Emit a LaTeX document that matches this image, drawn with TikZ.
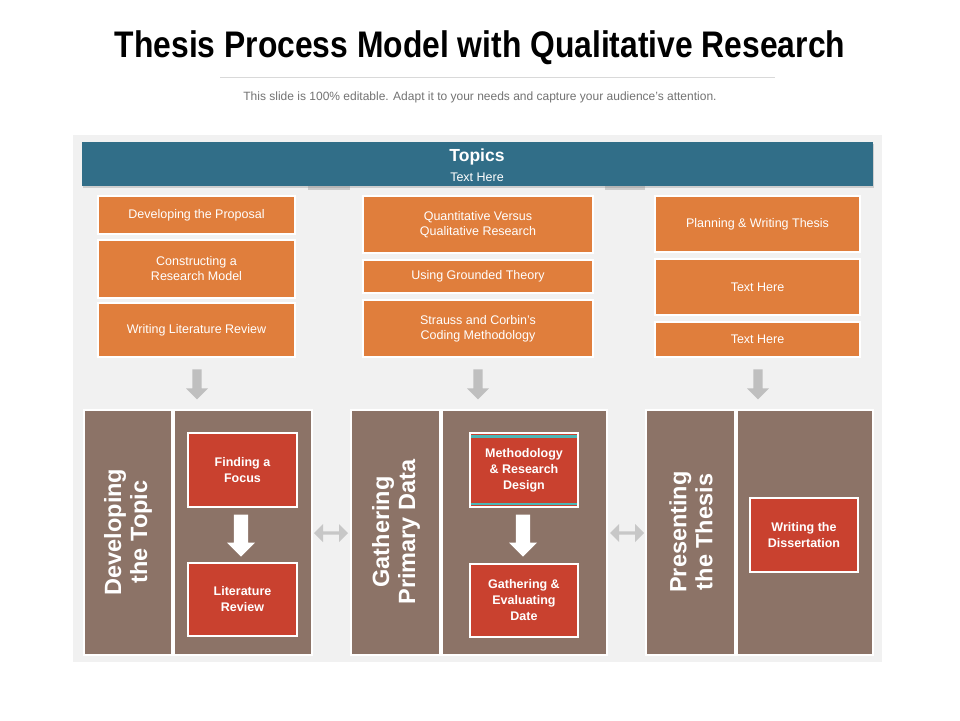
\documentclass[tikz,border=0pt]{standalone}
\usepackage{fontspec}
\setmainfont{Liberation Sans}
\usetikzlibrary{arrows.meta,shapes.arrows,shadows}
\definecolor{bgp}{HTML}{F1F1F1}
\definecolor{topbar}{HTML}{316E88}
\definecolor{org}{HTML}{E07E3C}
\definecolor{brn}{HTML}{8C7367}
\definecolor{rd}{HTML}{C9412F}
\definecolor{tl}{HTML}{4BB8B8}
\tikzset{
 obox/.style={fill=org,draw=white,line width=1.5pt,text=white,font=\fontsize{12.5}{15}\selectfont,align=center,inner sep=0pt,drop shadow={shadow xshift=1pt,shadow yshift=-1pt,opacity=.3}},
 bpan/.style={fill=brn,draw=white,line width=2pt},
 rbox/.style={fill=rd,draw=white,line width=2pt,text=white,font=\bfseries\fontsize{12.5}{16}\selectfont,align=center,inner sep=0pt},
 vtext/.style={rotate=90,text=white,font=\bfseries\fontsize{23.5}{26}\selectfont,align=center},
 garrow/.style={single arrow,fill=black!25,draw=none,minimum height=30pt,minimum width=22pt,single arrow head extend=3pt,shape border rotate=270,inner sep=2pt},
 warrow/.style={single arrow,fill=white,draw=none,minimum height=42pt,minimum width=28pt,single arrow head extend=3pt,shape border rotate=270,inner sep=3pt},
 darrow/.style={double arrow,fill=black!22,draw=none,minimum height=34pt,minimum width=18pt,inner sep=1.5pt}
}
\begin{document}
\begin{tikzpicture}[x=1pt,y=-1pt]
\useasboundingbox (0,0) rectangle (960,720);
\fill[white] (0,0) rectangle (960,720);
\node (title) at (480,48) {\bfseries\fontsize{37}{42}\selectfont\scalebox{0.86}[1]{Thesis Process Model with Qualitative Research}};
\draw[black!15,line width=0.8pt] (220,77) -- (775,77);
\node[text=black!55,font=\fontsize{12}{14}\selectfont] (sub) at (480,97) {This slide is 100\% editable. Adapt it to your needs and capture your audience's attention.};
\fill[bgp] (73,135) rectangle (882,662);
\fill[black!20] (308,184) rectangle (350,190);
\fill[black!20] (605,184) rectangle (645,190);
\node[fill=topbar,minimum width=791pt,minimum height=44pt,inner sep=0pt,drop shadow={shadow xshift=1pt,shadow yshift=-2pt,opacity=.3}] (top) at (477.5,164) {};
\node[text=white,font=\bfseries\fontsize{17.5}{20}\selectfont] (tt) at (477,157) {Topics};
\node[text=white,font=\fontsize{12.5}{14}\selectfont] (th) at (477,177) {Text Here};
\node[obox,minimum width=197pt,minimum height=38pt] (a1) at (196.5,215) {Developing the Proposal};
\node[obox,minimum width=197pt,minimum height=58pt] (a2) at (196.5,269) {Constructing a\\Research Model};
\node[obox,minimum width=197pt,minimum height=54pt] (a3) at (196.5,330) {Writing Literature Review};
\node[obox,minimum width=230pt,minimum height=57pt] (b1) at (478,224.5) {Quantitative Versus\\Qualitative Research};
\node[obox,minimum width=230pt,minimum height=33pt] (b2) at (478,276.5) {Using Grounded Theory};
\node[obox,minimum width=230pt,minimum height=57pt] (b3) at (478,328.5) {Strauss and Corbin's\\Coding Methodology};
\node[obox,minimum width=205pt,minimum height=56pt] (c1) at (757.5,224) {Planning \& Writing Thesis};
\node[obox,minimum width=205pt,minimum height=56pt] (c2) at (757.5,287) {Text Here};
\node[obox,minimum width=205pt,minimum height=35pt] (c3) at (757.5,339.5) {Text Here};
\node[garrow] (g1) at (197,382) {};
\node[garrow] (g2) at (478,382) {};
\node[garrow] (g3) at (758,382) {};
\draw[bpan] (84,410) rectangle (172,655);
\draw[bpan] (174,410) rectangle (312,655);
\draw[bpan] (351,410) rectangle (440,655);
\draw[bpan] (442,410) rectangle (607,655);
\draw[bpan] (646,410) rectangle (735,655);
\draw[bpan] (737,410) rectangle (873,655);
\node[vtext] (v1) at (128,532) {Developing\\the Topic};
\node[vtext] (v2) at (396,532) {Gathering\\Primary Data};
\node[vtext] (v3) at (691,532) {Presenting\\the Thesis};
\node[rbox,minimum width=109pt,minimum height=74pt] (r1) at (242.5,470) {Finding a\\Focus};
\node[rbox,minimum width=109pt,minimum height=73pt] (r2) at (242.5,599.5) {Literature\\Review};
\node[rbox,minimum width=108pt,minimum height=74pt] (r3) at (524,470) {Methodology\\\& Research\\Design};
\fill[tl] (471,435) rectangle (577,437.5);
\fill[tl] (471,502.5) rectangle (577,505);
\node[rbox,minimum width=108pt,minimum height=73pt] (r4) at (524,600.5) {Gathering \&\\Evaluating\\Date};
\node[rbox,minimum width=108pt,minimum height=74pt] (r5) at (804,535) {Writing the\\Dissertation};
\node[warrow] (w1) at (241,532) {};
\node[warrow] (w2) at (523,532) {};
\node[darrow] (d1) at (331,533) {};
\node[darrow] (d2) at (627,533) {};
\end{tikzpicture}
\end{document}
